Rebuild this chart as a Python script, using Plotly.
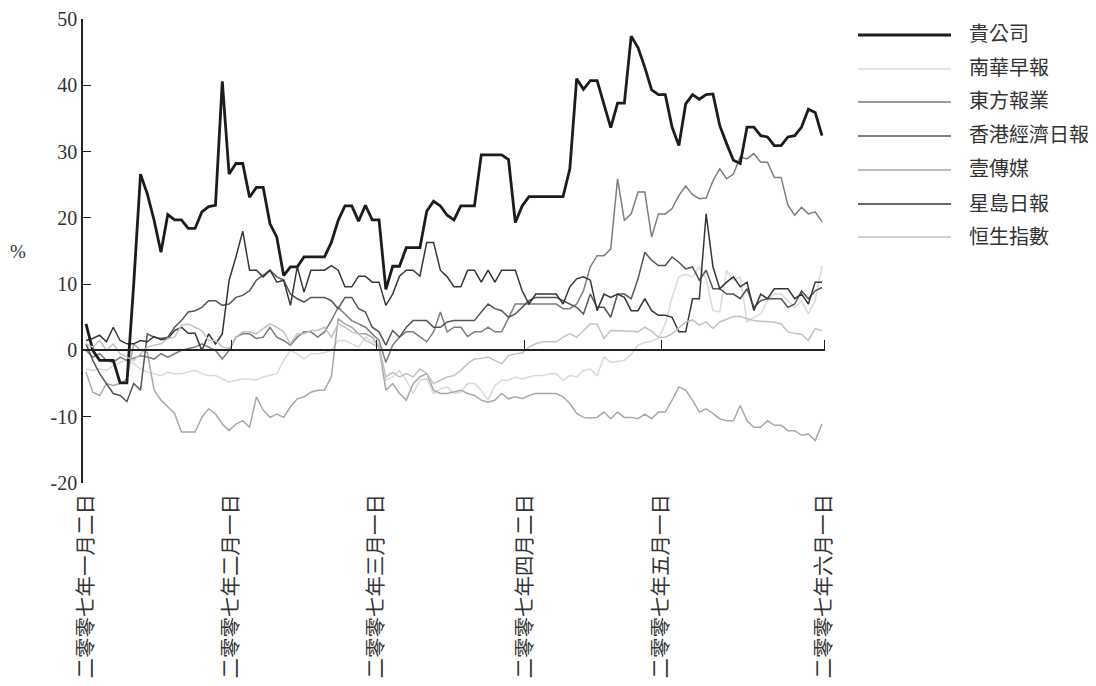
import plotly.graph_objects as go

# ---------------- data (percentage change since 2 Jan 2007) ----------------
day_index = list(range(109))

tick_positions = [0, 21.4, 42.6, 64.4, 84.4, 108.3]
tick_labels = ["二零零七年一月二日", "二零零七年二月一日", "二零零七年三月一日",
               "二零零七年四月二日", "二零零七年五月一日", "二零零七年六月一日"]

y_ticks = [-20, -10, 0, 10, 20, 30, 40, 50]
y_tick_labels = ["-20", "-10", "0", "10", "20", "30", "40", "50"]

series_names = ["貴公司", "南華早報", "東方報業", "香港經濟日報", "壹傳媒", "星島日報", "恒生指數"]

company = [4.0, 0.0, -1.5, -1.5, -1.5, -4.9, -4.9, 10.0, 26.6, 23.6,
           19.6, 14.8, 20.5, 19.7, 19.7, 18.4, 18.4, 20.9, 21.7, 21.9,
           40.6, 26.6, 28.2, 28.2, 23.1, 24.6, 24.6, 19.1, 17.1, 11.3,
           12.6, 12.6, 14.1, 14.1, 14.1, 14.1, 16.3, 19.6, 21.8, 21.8,
           19.5, 21.9, 19.7, 19.7, 9.2, 12.7, 12.7, 15.5, 15.5, 15.5,
           21.0, 22.5, 21.8, 20.4, 19.7, 21.8, 21.8, 21.8, 29.5, 29.5,
           29.5, 29.5, 28.8, 19.3, 21.8, 23.2, 23.2, 23.2, 23.2, 23.2,
           23.2, 27.4, 41.0, 39.4, 40.7, 40.7, 37.2, 33.6, 37.3, 37.3,
           47.4, 45.7, 42.7, 39.3, 38.6, 38.6, 33.7, 30.9, 37.2, 38.6,
           37.9, 38.6, 38.7, 33.9, 31.2, 28.7, 28.2, 33.7, 33.7, 32.4,
           32.2, 30.9, 30.9, 32.2, 32.4, 33.7, 36.4, 35.9, 32.4]

scmp = [-2.8, -3.0, -2.8, -3.0, -2.3, -1.8, -1.5, -2.0, -2.8, -3.3,
        -3.5, -3.8, -3.3, -3.5, -3.5, -3.3, -3.0, -3.5, -3.8, -3.8,
        -4.3, -4.8, -4.5, -4.3, -4.3, -4.5, -4.0, -3.8, -3.5, -1.5,
        0.0, -0.5, -1.3, -0.5, -0.5, -0.3, 0.0, 1.5, 1.5, 1.0,
        0.5, 2.0, 1.3, 1.0, -4.5, -4.0, -3.0, -4.5, -6.5, -4.5,
        -4.3, -6.5, -5.8, -5.5, -6.5, -6.3, -5.0, -5.0, -6.0, -7.5,
        -5.3, -4.5, -4.5, -4.0, -4.3, -4.0, -3.8, -3.8, -3.5, -3.5,
        -4.5, -3.8, -4.0, -3.0, -2.8, -3.8, -1.0, -1.8, -1.6, -1.5,
        -0.6, 0.8, 1.2, 1.4, 1.8, 4.0, 8.0, 11.1, 11.5, 11.1,
        12.6, 10.8, 6.0, 5.8, 12.1, 10.6, 11.1, 4.3, 5.0, 5.5,
        7.5, 8.5, 8.5, 7.5, 6.5, 7.5, 5.5, 7.5, 12.8]

oriental = [0.0, -1.0, -0.5, -1.5, -1.8, -1.0, -1.5, -1.2, -0.8, -1.0,
            -1.3, -0.5, -1.0, -0.5, 0.0, 0.3, 0.5, 1.0, 0.5, 0.0,
            -1.3, 0.0, 2.0, 2.5, 2.5, 1.8, 2.0, 3.5, 2.0, 1.5,
            0.8, 2.0, 2.8, 2.8, 2.0, 2.8, 4.5, 6.5, 5.5, 4.5,
            4.0, 3.5, 2.5, 1.5, -1.8, 0.8, 2.0, 2.8, 2.8, 2.0,
            1.3, 2.8, 5.8, 2.8, 3.5, 3.5, 2.1, 2.8, 2.8, 3.5,
            2.8, 2.8, 4.8, 7.0, 7.0, 7.0, 7.0, 7.0, 7.0, 7.0,
            6.3, 6.3, 7.0, 9.0, 12.6, 14.3, 14.3, 15.3, 25.9, 19.6,
            20.6, 23.9, 23.9, 17.1, 20.6, 20.6, 21.4, 23.4, 24.8, 23.5,
            22.9, 23.0, 25.6, 27.4, 25.9, 26.6, 29.2, 28.9, 29.7, 28.4,
            28.4, 26.1, 26.1, 21.9, 20.4, 21.6, 20.6, 20.9, 19.4]

hket = [1.0, -1.5, -3.5, -5.0, -6.5, -6.8, -7.7, -5.0, -6.0, 2.5,
        2.0, 1.8, 2.0, 3.5, 4.5, 5.8, 6.0, 6.5, 7.5, 7.5,
        6.8, 7.0, 8.0, 8.3, 9.0, 10.6, 11.3, 12.1, 11.1, 10.6,
        8.5, 7.8, 7.3, 8.0, 8.0, 8.0, 7.5, 6.3, 8.0, 8.0,
        6.3, 5.8, 3.5, 2.8, 0.8, 3.0, 2.0, 3.5, 4.5, 4.5,
        4.5, 3.5, 3.5, 4.3, 4.5, 4.5, 4.5, 4.5, 5.8, 7.0,
        6.3, 6.0, 5.0, 5.5, 6.5, 7.5, 8.0, 8.0, 8.0, 8.0,
        7.5, 7.0, 6.5, 5.5, 8.5, 6.5, 6.5, 5.0, 8.5, 8.5,
        7.8, 10.8, 14.8, 13.6, 12.8, 12.8, 14.1, 13.3, 12.3, 12.6,
        10.6, 12.1, 9.3, 9.3, 8.5, 8.5, 7.8, 9.3, 6.5, 7.5,
        7.8, 7.8, 7.8, 6.5, 7.0, 9.0, 7.8, 9.0, 9.5]

next_media = [-3.3, -6.3, -6.8, -5.0, -5.3, -5.0, -4.3, 1.0, 0.0, -0.3,
              -6.0, -7.5, -8.5, -9.5, -12.3, -12.3, -12.3, -10.1, -8.8, -9.6,
              -11.1, -12.1, -11.1, -10.6, -11.6, -7.0, -9.0, -10.1, -9.6, -10.1,
              -8.5, -7.3, -7.0, -6.3, -6.0, -6.0, -4.0, 4.8, 4.0, 3.5,
              2.5, 2.5, 2.0, 0.5, -6.0, -5.0, -6.5, -7.5, -5.0, -4.0,
              -3.5, -6.0, -6.5, -6.5, -6.3, -6.0, -6.5, -6.8, -7.5, -7.8,
              -7.5, -6.5, -7.3, -7.0, -7.3, -6.8, -6.5, -6.5, -6.5, -6.5,
              -7.0, -8.0, -9.5, -10.1, -10.2, -10.1, -9.3, -10.3, -9.3, -10.1,
              -10.1, -10.3, -9.6, -10.3, -9.3, -9.3, -7.5, -5.5, -6.0, -7.5,
              -9.3, -8.8, -9.5, -10.3, -10.6, -10.6, -8.3, -10.6, -11.6, -11.6,
              -10.6, -11.3, -11.3, -12.1, -12.1, -12.8, -12.6, -13.6, -11.1]

sing_tao = [1.5, 1.8, 2.3, 1.3, 3.5, 1.5, 1.0, 1.0, 1.5, 1.3,
            2.1, 1.6, 1.8, 3.0, 3.5, 2.6, 2.6, 0.0, 2.5, 1.0,
            2.5, 10.6, 14.1, 18.0, 12.1, 12.1, 11.1, 12.1, 10.3, 10.6,
            6.8, 12.6, 8.8, 12.1, 12.1, 12.1, 12.8, 12.1, 9.6, 9.6,
            11.2, 11.2, 10.3, 10.3, 6.8, 8.5, 11.2, 12.1, 12.1, 11.2,
            16.3, 16.3, 12.1, 11.1, 9.6, 9.6, 12.1, 12.1, 10.3, 12.1,
            10.3, 12.1, 12.1, 12.1, 9.0, 7.0, 8.5, 8.5, 8.5, 8.5,
            7.0, 9.6, 10.8, 11.1, 10.6, 6.0, 8.5, 8.0, 8.5, 8.0,
            6.0, 6.0, 7.8, 6.0, 5.3, 5.3, 5.0, 2.8, 2.8, 7.8,
            7.8, 20.6, 12.6, 9.3, 10.3, 11.1, 9.6, 10.3, 6.0, 8.5,
            7.8, 9.3, 9.3, 9.3, 7.8, 8.5, 7.0, 10.3, 10.3]

hsi = [1.0, 0.5, 1.5, 0.0, 1.0, -0.5, -1.0, -1.5, -0.5, 0.5,
       0.8, 1.0, 1.8, 2.0, 3.8, 4.0, 3.5, 3.0, 1.5, 1.5,
       0.5, 0.3, 2.0, 2.8, 2.8, 2.5, 3.3, 4.0, 3.5, 2.8,
       1.0, 2.5, 2.5, 3.0, 3.0, 3.5, 2.0, 4.0, 3.5, 2.8,
       2.5, 1.5, 1.0, 0.5, -4.0, -3.3, -4.0, -3.5, -4.0, -2.8,
       -3.5, -5.0, -4.5, -4.0, -3.8, -3.0, -2.0, -1.3, -1.2, -1.0,
       -1.5, -2.0, -0.8, -0.5, -0.4, 0.5, 1.0, 1.3, 1.3, 1.3,
       2.0, 2.5, 2.0, 3.0, 4.0, 4.0, 1.8, 3.0, 3.0, 3.0,
       2.9, 2.8, 3.5, 2.9, 2.0, 2.0, 2.5, 3.4, 4.3, 4.6,
       3.8, 4.3, 3.3, 4.3, 4.7, 5.1, 5.1, 4.8, 4.5, 4.4,
       4.3, 4.3, 4.0, 2.8, 2.6, 2.4, 1.5, 3.3, 3.0]

# ---------------- styles ----------------
colors = {"貴公司": "#1c1c1c", "南華早報": "#dadada", "東方報業": "#7d7d7d",
          "香港經濟日報": "#555555", "壹傳媒": "#a8a8a8", "星島日報": "#363636",
          "恒生指數": "#c2c2c2"}
widths = {"貴公司": 2.8, "南華早報": 1.5, "東方報業": 1.5, "香港經濟日報": 1.5,
          "壹傳媒": 1.5, "星島日報": 1.5, "恒生指數": 1.5}
values = {"貴公司": company, "南華早報": scmp, "東方報業": oriental,
          "香港經濟日報": hket, "壹傳媒": next_media, "星島日報": sing_tao,
          "恒生指數": hsi}

# page body has an 8px margin: work in screen pixels, then shift
OFF = 8
W, H = 1096 - OFF, 686 - OFF
ML, MT = 83 - OFF, 19 - OFF          # plot left / top on screen: 83, 19
PR, PB = 825 - OFF, 483 - OFF        # plot right / bottom on screen: 825, 483
MR, MB = W - PR, H - PB
PW, PH = PR - ML, PB - MT
px_per_step = PW / 108.88
x_range = [-3 / px_per_step, 108 + 3 / px_per_step]


def px_x(p):  # screen pixel -> paper x
    return (p - OFF - ML) / PW


def px_y(p):  # screen pixel -> paper y
    return (PB - (p - OFF)) / PH


fig = go.Figure()
draw_order = ["恒生指數", "南華早報", "壹傳媒", "東方報業", "香港經濟日報", "星島日報", "貴公司"]
for name in draw_order:
    fig.add_trace(go.Scatter(
        x=day_index, y=values[name], name=name, mode="lines",
        line=dict(color=colors[name], width=widths[name]),
        xaxis="x2" if name == "恒生指數" else "x",
        showlegend=False,
    ))

serif = "Liberation Serif, Times New Roman, serif"
cjk = "Noto Sans CJK TC, Noto Sans CJK SC, sans-serif"

# manual legend (long line samples like the original)
legend_rows = [35, 69, 102, 136, 170, 204, 237]
shapes = []
annotations = []
for name, ly in zip(series_names, legend_rows):
    shapes.append(dict(type="line", xref="paper", yref="paper",
                       x0=px_x(858), x1=px_x(951), y0=px_y(ly), y1=px_y(ly),
                       line=dict(color=colors[name], width=3 if name == "貴公司" else 1.5)))
    annotations.append(dict(text=name, xref="paper", yref="paper",
                            x=px_x(967), y=px_y(ly - 2), xanchor="left", yanchor="middle",
                            showarrow=False, font=dict(family=cjk, size=20, color="#333333")))

annotations.append(dict(text="%", xref="paper", yref="paper", x=px_x(18), y=px_y(251),
                        xanchor="center", yanchor="middle", showarrow=False,
                        font=dict(family=serif, size=19, color="#333333")))

fig.update_layout(
    width=W, height=H,
    margin=dict(l=ML, r=MR, t=MT, b=MB, autoexpand=False),
    paper_bgcolor="white", plot_bgcolor="white",
    showlegend=False,
    shapes=shapes, annotations=annotations,
    xaxis=dict(range=x_range, tickvals=tick_positions, ticktext=tick_labels,
               tickangle=-90, ticks="", showline=False, showgrid=False, zeroline=False,
               tickfont=dict(family=cjk, size=20.5, color="#333333"),
               ticklabelstandoff=6),
    xaxis2=dict(range=x_range, overlaying="x", matches="x", anchor="free",
                position=20 / 70, side="top", showline=True, linecolor="#222222",
                linewidth=1.5, ticks="outside", ticklen=10, tickwidth=1.2,
                tickcolor="#222222", tickvals=tick_positions[1:],
                showticklabels=False, showgrid=False, zeroline=False),
    yaxis=dict(range=[-20, 50], tickvals=y_ticks, ticktext=y_tick_labels,
               ticks="inside", ticklen=8, tickwidth=1.2, tickcolor="#222222",
               showline=True, linecolor="#222222", linewidth=1.5,
               showgrid=False, zeroline=False,
               tickfont=dict(family=serif, size=20, color="#333333")),
)

fig.write_html("out.html")
